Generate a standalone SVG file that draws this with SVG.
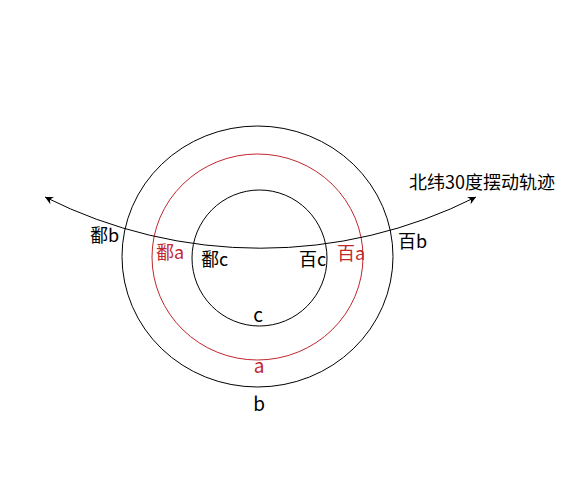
<svg xmlns="http://www.w3.org/2000/svg" width="584" height="482" viewBox="0 0 584 482">
<style>
text { font-family: "Noto Sans CJK SC", "Noto Sans", sans-serif; font-size: 18px; fill: #000; }
.red { fill: #c0272d; }
.ring { fill: none; stroke: #000; stroke-width: 1; }
.ring.r { stroke: #c0272d; }
.track { fill: none; stroke: #000; stroke-width: 1; }
</style>
<defs>
<marker id="arr" viewBox="-10 -6 12 12" refX="0" refY="0" markerWidth="12" markerHeight="12" markerUnits="userSpaceOnUse" orient="auto-start-reverse">
<path d="M0,0 L-8,-4 L-5.5,0 L-8,4 Z" fill="#000"/>
</marker>
</defs>
<rect width="584" height="482" fill="#fff"/>
<g id="ring-b"><ellipse class="ring" cx="257.5" cy="256.5" rx="135.5" ry="130.5"/><text x="259" y="411" text-anchor="middle" style="font-size:19px">b</text></g>
<g id="ring-a"><ellipse class="ring r" cx="257.5" cy="257" rx="105.5" ry="103"/><text class="red" x="259" y="373" text-anchor="middle" style="font-size:19px">a</text></g>
<g id="ring-c"><ellipse class="ring" cx="259.5" cy="258" rx="67.5" ry="68"/><text x="258" y="322" text-anchor="middle" style="font-size:19px">c</text></g>
<g id="connectors">
<path class="track" d="M45,197 A479,479 0 0 0 476,197" marker-start="url(#arr)" marker-end="url(#arr)"/>
</g>
<g id="labels">
<text x="90" y="242">鄱b</text>
<text class="red" x="156" y="259">鄱a</text>
<text x="201" y="266">鄱c</text>
<text x="299" y="266">百c</text>
<text class="red" x="337" y="260">百a</text>
<text x="398" y="248">百b</text>
<text x="409" y="189">北纬30度摆动轨迹</text>
</g>
</svg>
